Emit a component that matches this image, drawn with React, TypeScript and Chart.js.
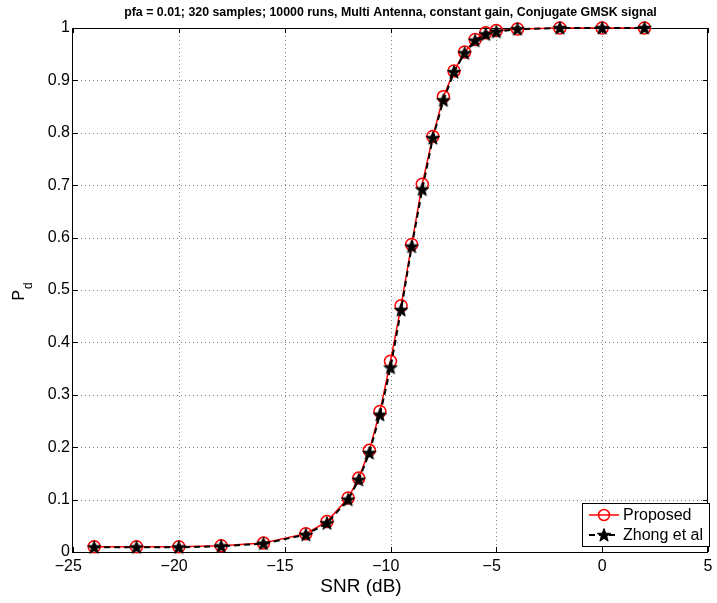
import React, { useEffect, useRef } from "react";
import { Chart, registerables } from "chart.js";
Chart.register(...registerables);

const snr = [-24, -22, -20, -18, -16, -14, -13, -12, -11.5, -11, -10.5, -10, -9.5, -9, -8.5, -8, -7.5, -7, -6.5, -6, -5.5, -5, -4, -2, 0, 2];
const proposed = [0.010, 0.010, 0.010, 0.012, 0.017, 0.035, 0.058, 0.103, 0.141, 0.194, 0.268, 0.364, 0.470, 0.587, 0.702, 0.793, 0.869, 0.918, 0.954, 0.978, 0.991, 0.995, 0.998, 1, 1, 1];
const zhong = [0.009, 0.009, 0.009, 0.011, 0.016, 0.033, 0.055, 0.100, 0.138, 0.189, 0.262, 0.352, 0.462, 0.583, 0.692, 0.790, 0.862, 0.916, 0.952, 0.976, 0.988, 0.993, 0.998, 1, 1, 1];
const xTicks = [-25, -20, -15, -10, -5, 0, 5];
const yTicks = [0, 0.1, 0.2, 0.3, 0.4, 0.5, 0.6, 0.7, 0.8, 0.9, 1];
const titleText = "pfa = 0.01; 320 samples; 10000 runs, Multi Antenna, constant gain, Conjugate GMSK signal";
const xLabel = "SNR (dB)";
const yLabelMain = "P";
const yLabelSub = "d";
const legendLabels = ["Proposed", "Zhong et al"];

const FONT = '"Liberation Sans", Arial, Helvetica, sans-serif';

function makeStar(): HTMLCanvasElement {
  const c = document.createElement("canvas");
  const s = 16;
  c.width = s;
  c.height = s;
  const g = c.getContext("2d")!;
  const cx = s / 2, cy = s / 2 + 0.5;
  const R = 7, r = 2.9;
  g.beginPath();
  for (let i = 0; i < 10; i++) {
    const ang = -Math.PI / 2 + (i * Math.PI) / 5;
    const rad = i % 2 === 0 ? R : r;
    const px = cx + rad * Math.cos(ang);
    const py = cy + rad * Math.sin(ang);
    if (i === 0) g.moveTo(px, py);
    else g.lineTo(px, py);
  }
  g.closePath();
  g.fillStyle = "#000";
  g.fill();
  g.lineWidth = 1;
  g.strokeStyle = "#000";
  g.stroke();
  return c;
}

export default function App() {
  const ref = useRef<HTMLCanvasElement | null>(null);
  useEffect(() => {
    document.body.style.margin = "0";
    const canvas = ref.current!;
    const star = makeStar();

    const framePlugin = {
      id: "frame",
      beforeDatasetsDraw(chart: any) {
        const { ctx, chartArea } = chart;
        const { left, right, top, bottom } = chartArea;
        const xs = chart.scales.x;
        const ys = chart.scales.y;
        ctx.save();
        ctx.setLineDash([1, 3]);
        ctx.strokeStyle = "rgba(0,0,0,0.5)";
        ctx.lineWidth = 1;
        xTicks.forEach((v) => {
          if (v === xTicks[0] || v === xTicks[xTicks.length - 1]) return;
          const px = Math.round(xs.getPixelForValue(v)) + 0.5;
          ctx.beginPath();
          ctx.moveTo(px, top);
          ctx.lineTo(px, bottom);
          ctx.stroke();
        });
        yTicks.forEach((v) => {
          if (v === yTicks[0] || v === yTicks[yTicks.length - 1]) return;
          const py = Math.round(ys.getPixelForValue(v)) + 0.5;
          ctx.beginPath();
          ctx.moveTo(left, py);
          ctx.lineTo(right, py);
          ctx.stroke();
        });
        ctx.setLineDash([]);
        ctx.strokeStyle = "#000";
        const tl = 5;
        xTicks.forEach((v) => {
          const px = Math.round(xs.getPixelForValue(v)) + 0.5;
          ctx.beginPath();
          ctx.moveTo(px, bottom);
          ctx.lineTo(px, bottom - tl);
          ctx.moveTo(px, top);
          ctx.lineTo(px, top + tl);
          ctx.stroke();
        });
        yTicks.forEach((v) => {
          const py = Math.round(ys.getPixelForValue(v)) + 0.5;
          ctx.beginPath();
          ctx.moveTo(left, py);
          ctx.lineTo(left + tl, py);
          ctx.moveTo(right, py);
          ctx.lineTo(right - tl, py);
          ctx.stroke();
        });
        ctx.strokeRect(Math.round(left) - 0.5, Math.round(top) + 0.5, Math.round(right - left), Math.round(bottom - top));
        ctx.restore();
      },
      afterDraw(chart: any) {
        const { ctx, chartArea } = chart;
        const { left, right } = chartArea;
        const xs = chart.scales.x;
        ctx.save();
        ctx.fillStyle = "#000";
        // title, sized to span the same width as the original
        ctx.font = `bold 12px ${FONT}`;
        const tw = ctx.measureText(titleText).width;
        const tsize = Math.min(13, (12 * 533) / tw);
        ctx.font = `bold ${tsize.toFixed(2)}px ${FONT}`;
        ctx.textAlign = "center";
        ctx.textBaseline = "alphabetic";
        ctx.fillText(titleText, (left + right) / 2, 16);
        // x tick labels
        ctx.font = `16px ${FONT}`;
        xTicks.forEach((v) => {
          const px = xs.getPixelForValue(v);
          const digits = String(Math.abs(v));
          const w = ctx.measureText(digits).width;
          ctx.textAlign = "left";
          ctx.fillText(digits, px - w / 2, 571);
          if (v < 0) {
            ctx.textAlign = "right";
            ctx.fillText("\u2212", px - w / 2, 571);
          }
        });
        // x label
        ctx.font = `19px ${FONT}`;
        ctx.textAlign = "center";
        ctx.fillText(xLabel, 361, 592);
        // y label with subscript
        ctx.save();
        ctx.translate(24, 290);
        ctx.rotate(-Math.PI / 2);
        ctx.textAlign = "left";
        ctx.font = `16px ${FONT}`;
        ctx.fillText(yLabelMain, -10.5, 0);
        ctx.font = `12px ${FONT}`;
        ctx.fillText(yLabelSub, 1, 8);
        ctx.restore();
        // legend
        const bx = 582.5, by = 503.5, bw = 127, bh = 43;
        ctx.fillStyle = "#fff";
        ctx.fillRect(bx, by, bw, bh);
        ctx.strokeStyle = "#000";
        ctx.lineWidth = 1;
        ctx.strokeRect(bx, by, bw, bh);
        const rows = [515, 535];
        ctx.strokeStyle = "#ff0000";
        ctx.lineWidth = 1.5;
        ctx.beginPath();
        ctx.moveTo(589, rows[0]);
        ctx.lineTo(619, rows[0]);
        ctx.stroke();
        ctx.beginPath();
        ctx.arc(604, rows[0], 5.5, 0, Math.PI * 2);
        ctx.stroke();
        ctx.strokeStyle = "#000";
        ctx.lineWidth = 2;
        ctx.setLineDash([6, 4]);
        ctx.beginPath();
        ctx.moveTo(589, rows[1]);
        ctx.lineTo(619, rows[1]);
        ctx.stroke();
        ctx.setLineDash([]);
        ctx.drawImage(star, 604 - 8, rows[1] - 8);
        ctx.fillStyle = "#000";
        ctx.font = `16px ${FONT}`;
        ctx.textAlign = "left";
        ctx.textBaseline = "middle";
        ctx.fillText(legendLabels[0], 623, rows[0] + 1);
        ctx.fillText(legendLabels[1], 623, rows[1] + 1);
        ctx.restore();
      },
    };

    const chart = new Chart(canvas, {
      type: "line",
      data: {
        datasets: [
          {
            label: legendLabels[1],
            data: snr.map((x, i) => ({ x, y: zhong[i] })),
            borderColor: "#000",
            borderWidth: 2,
            borderDash: [6, 4],
            pointStyle: star as any,
            pointRadius: 7,
            tension: 0,
            fill: false,
            clip: false as any,
            order: 1,
          },
          {
            label: legendLabels[0],
            data: snr.map((x, i) => ({ x, y: proposed[i] })),
            borderColor: "#ff0000",
            borderWidth: 1.5,
            pointStyle: "circle",
            pointRadius: 6,
            pointBorderWidth: 1.5,
            pointBorderColor: "#ff0000",
            pointBackgroundColor: "rgba(0,0,0,0)",
            tension: 0,
            fill: false,
            clip: false as any,
            order: 2,
          },
        ],
      },
      options: {
        responsive: false,
        animation: false,
        devicePixelRatio: 1,
        layout: { padding: { top: 28, right: 2, left: 0, bottom: 0 } },
        plugins: {
          legend: { display: false },
          title: { display: false },
          tooltip: { enabled: false },
        },
        scales: {
          x: {
            type: "linear",
            min: -25,
            max: 5,
            ticks: { display: false, stepSize: 5 },
            grid: { display: false, drawTicks: false },
            border: { display: false },
            afterFit: (s: any) => {
              s.height = 51;
            },
          },
          y: {
            type: "linear",
            min: 0,
            max: 1,
            afterBuildTicks: (s: any) => {
              s.ticks = yTicks.map((v) => ({ value: v }));
            },
            ticks: {
              padding: 3,
              color: "#000",
              font: { family: FONT, size: 16 },
              callback: (v: any) => String(Number(Number(v).toFixed(1))),
            },
            grid: { display: false, drawTicks: false },
            border: { display: false },
            afterFit: (s: any) => {
              s.width = 73;
            },
          },
        },
      },
      plugins: [framePlugin],
    });
    return () => chart.destroy();
  }, []);
  return <canvas ref={ref} width={717} height={603} style={{ display: "block" }} />;
}
